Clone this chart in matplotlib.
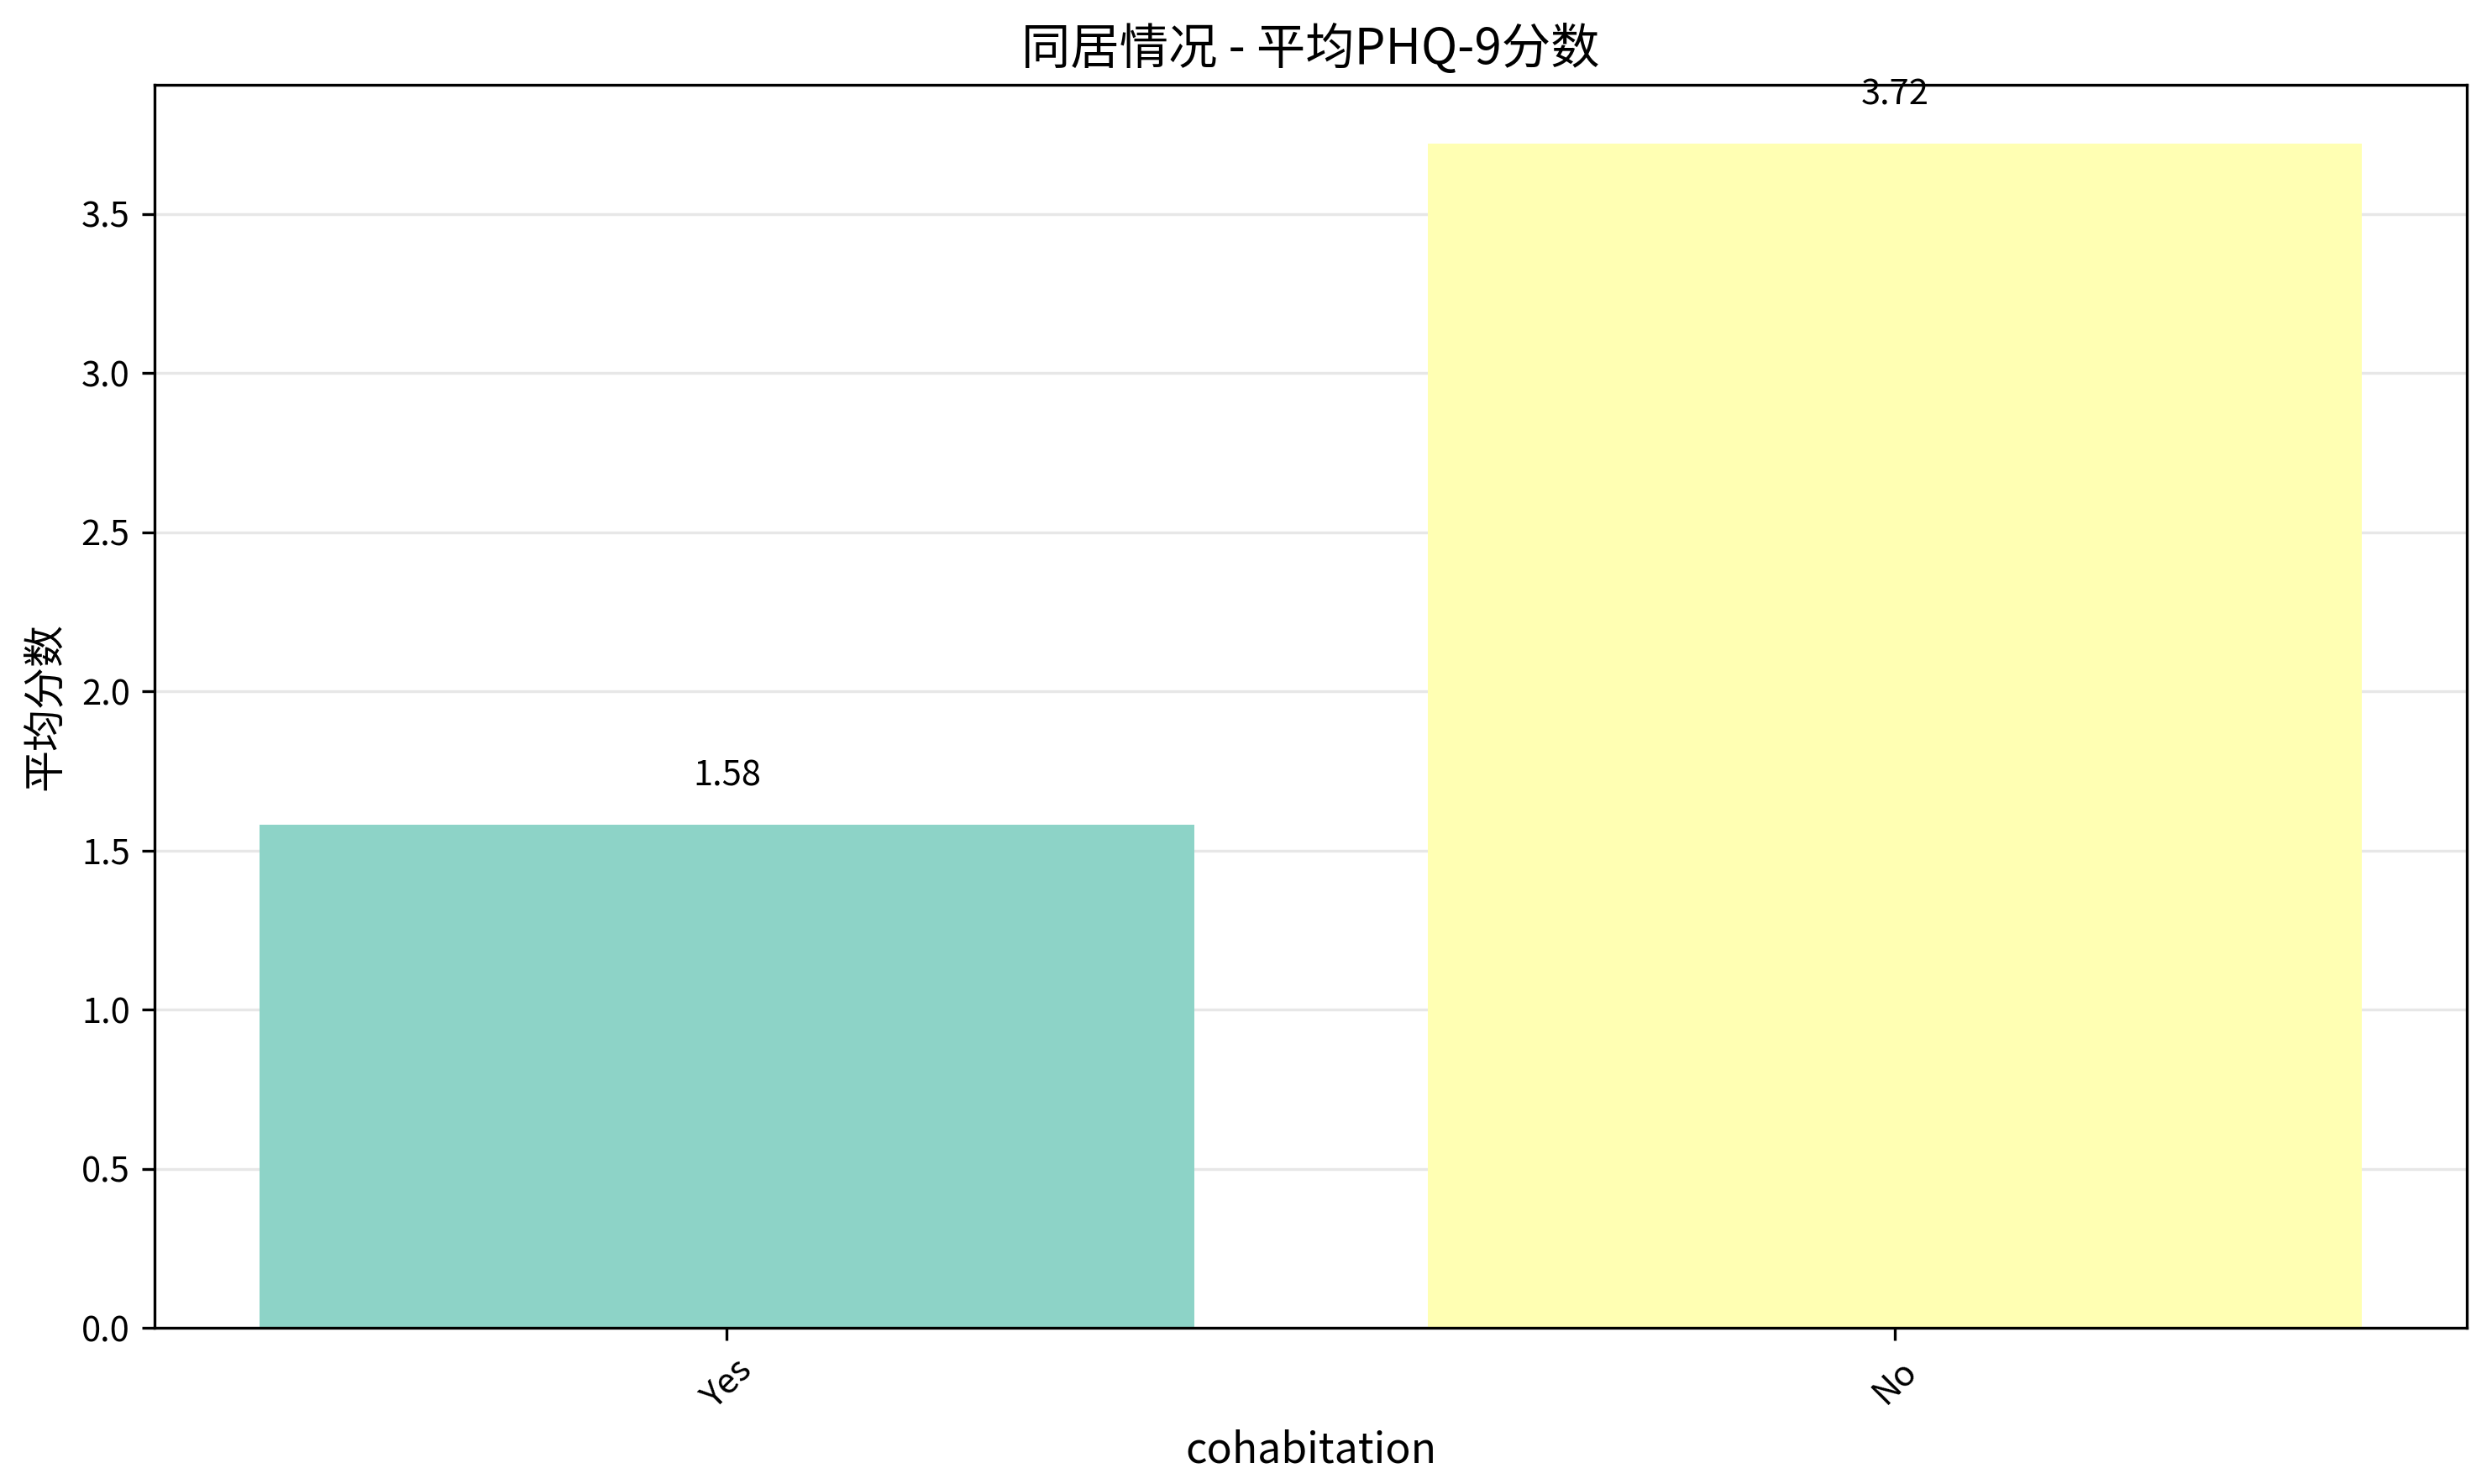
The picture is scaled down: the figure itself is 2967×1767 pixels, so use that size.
import matplotlib
matplotlib.use("Agg")
import matplotlib.pyplot as plt

plt.rcParams['font.family'] = ['Noto Sans CJK SC', 'DejaVu Sans']
plt.rcParams['axes.unicode_minus'] = False

categories = ["Yes", "No"]
mean_scores = [1.58, 3.72]
bar_colors = ["#8dd3c7", "#ffffb3"]

title = "同居情况 - 平均PHQ-9分数"
xlabel = "cohabitation"
ylabel = "平均分数"

DPI = 300
fig = plt.figure(figsize=(2967/DPI, 1767/DPI), dpi=DPI)
ax = fig.add_axes([0.062, 0.105, 0.928, 0.838])

x = list(range(len(categories)))
bars = ax.bar(x, mean_scores, color=bar_colors, width=0.8)
for b, v in zip(bars, mean_scores):
    ax.text(b.get_x() + b.get_width()/2, v + 0.1, f"{v:.2f}",
            ha='center', va='bottom', fontsize=10)

ax.set_xticks(x)
ax.set_xticklabels(categories, rotation=45)
ax.set_title(title, fontsize=14, fontweight='medium')
ax.set_xlabel(xlabel, fontsize=12)
ax.set_ylabel(ylabel, fontsize=12)
ax.grid(axis='y', alpha=0.3)
ax.set_axisbelow(True)
ax.tick_params(labelsize=10)

fig.savefig("out.png", dpi=DPI)
